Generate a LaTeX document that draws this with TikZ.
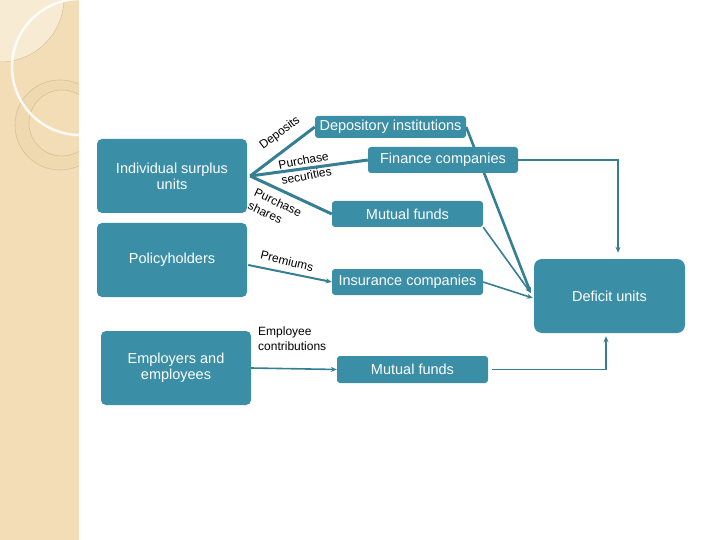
\documentclass[tikz,border=0pt]{standalone}
\usepackage{fontspec}
\setmainfont{Liberation Sans}
\usetikzlibrary{arrows.meta,backgrounds,calc}
\definecolor{boxteal}{HTML}{3A8FA6}
\definecolor{lineteal}{HTML}{367E94}
\definecolor{stripbg}{HTML}{F2DDB6}
\definecolor{striplight}{HTML}{F7EBD3}
\definecolor{stripline}{HTML}{D9C096}
\begin{document}
\begin{tikzpicture}[x=1pt,y=-1pt,
  box/.style={draw=none, fill=boxteal, rounded corners=5pt, text=white,
    font=\fontsize{14.5}{16}\selectfont, inner sep=0pt, align=center},
  lbl/.style={font=\fontsize{12}{14.5}\selectfont, inner sep=0pt, text=black},
  fanline/.style={draw=lineteal, line width=3pt},
  tip/.style={-{Stealth[length=6pt,width=5pt]}},
  conn/.style={draw=lineteal, line width=1.6pt, tip}]
\useasboundingbox (0,0) rectangle (720,540);
% decorative strip
\begin{scope}
  \clip (0,0) rectangle (79,540);
  \fill[stripbg] (0,0) rectangle (79,540);
  \fill[striplight] (0,-2) circle (64pt);
  \draw[stripline, line width=0.5pt] (0,-2) circle (64pt);
  \fill[stripline!15!stripbg, even odd rule] (60,125) circle (45pt) (62,123) circle (33pt);
  \draw[stripline, line width=0.6pt] (60,125) circle (45pt) (62,123) circle (33pt);
  \draw[white, line width=2.5pt, opacity=0.85] (80,67) circle (68pt);
\end{scope}
% boxes
\node[box, minimum width=150pt, minimum height=74pt] (ind) at (172,176) {Individual surplus\\units};
\node[box, minimum width=150pt, minimum height=74pt] (pol) at (172,260) {Policyholders};
\node[box, minimum width=150pt, minimum height=74pt] (emp) at (176,368) {Employers and\\employees};
\node[box, rounded corners=3pt, minimum width=151pt, minimum height=22pt] (dep) at (390.5,127) {Depository institutions};
\node[box, rounded corners=3pt, minimum width=150pt, minimum height=26pt] (fin) at (443,160) {Finance companies};
\node[box, rounded corners=3pt, minimum width=151pt, minimum height=26pt] (mfa) at (407.5,214) {Mutual funds};
\node[box, rounded corners=3pt, minimum width=151pt, minimum height=26pt] (ins) at (407.5,282) {Insurance companies};
\node[box, rounded corners=8pt, minimum width=151pt, minimum height=74pt] (def) at (609.5,296) {Deficit units};
\node[box, rounded corners=3pt, minimum width=151pt, minimum height=27pt] (mfb) at (412.5,369.5) {Mutual funds};
% connectors
\coordinate (fanpt) at ($(ind.east)+(3,0)$);
\coordinate (conv) at ($(def.west)+(-3,-3)$);
\coordinate (convb) at ($(def.west)+(-1,2)$);
\coordinate (defn) at ($(def.north)+(8.5,-6)$);
\coordinate (defs) at ($(def.south)+(-3.5,3)$);
\coordinate (mfbout) at ($(mfb.east)+(4,0)$);
\coordinate (polout) at ($(pol.east)+(1,5)$);
\draw[fanline] (fanpt) -- (dep.west);
\draw[fanline] (fanpt) -- (fin.west);
\draw[fanline] (fanpt) -- (mfa.west);
\begin{pgfonlayer}{background}
  \draw[draw=lineteal, line width=2.6pt, tip] (dep.east) -- (conv);
\end{pgfonlayer}
\draw[conn] (mfa.south east) -- (conv);
\draw[conn] (ins.east) -- (convb);
\draw[conn] (fin.east) -| (defn);
\draw[conn] (mfbout) -| (defs);
\draw[conn, line width=2pt] (polout) -- (ins.west);
\draw[conn] (emp.east) -- (mfb.west);
% labels
\node[lbl, rotate=37] (ldep) at (280,133) {Deposits};
\node[lbl, rotate=11, align=center, font=\fontsize{12}{15.5}\selectfont] (lsec) at (305,168) {Purchase\\securities};
\node[lbl, rotate=-25, align=left] (lsha) at (275,209) {Purchase\\shares};
\node[lbl, rotate=-14] (lpre) at (287,261) {Premiums};
\node[lbl, align=left, anchor=north west] (lemp) at (258,327) {Employee\\contributions};
\end{tikzpicture}
\end{document}
